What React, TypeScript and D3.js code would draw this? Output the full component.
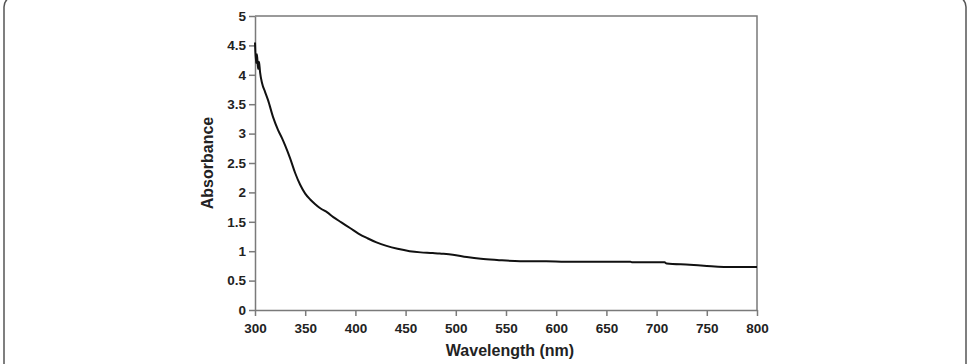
import { useEffect, useRef } from "react";
import * as d3 from "d3";

// absorbance spectrum
const wavelength = [
  300, 301, 302, 303, 304, 305, 307, 310, 313, 318, 323, 327, 330, 335, 340, 345, 350, 355, 360, 365,
  372, 378, 386, 395, 403, 412, 421, 431, 442, 454, 465, 477, 484, 497, 511, 525, 541, 564, 590, 609,
  644, 674, 676, 708, 710, 733, 750, 776, 800,
];
const absorbance = [
  4.55, 4.2, 4.35, 4.1, 4.22, 4.05, 3.86, 3.71, 3.57, 3.28, 3.06, 2.92, 2.8, 2.58, 2.33, 2.13, 1.98, 1.88, 1.8, 1.73,
  1.66, 1.58, 1.49, 1.39, 1.3, 1.22, 1.15, 1.09, 1.04, 1.0, 0.98, 0.97, 0.96, 0.94, 0.9, 0.87, 0.85, 0.83, 0.83, 0.82,
  0.82, 0.82, 0.81, 0.81, 0.79, 0.77, 0.75, 0.73, 0.73,
];
const xTicks = [300, 350, 400, 450, 500, 550, 600, 650, 700, 750, 800];
const yTicks = [0, 0.5, 1, 1.5, 2, 2.5, 3, 3.5, 4, 4.5, 5];

export default function App() {
  const svgRef = useRef<SVGSVGElement | null>(null);

  useEffect(() => {
    const svg = d3.select(svgRef.current);
    const width = 975;
    const height = 364;
    const margin = { top: 16, right: 218, bottom: 54, left: 255 };
    const font = "'Liberation Sans', Arial, sans-serif";
    const axisColor = "#7a7a7a";

    svg.selectAll("*").remove();

    // outer frame with rounded corners
    svg.append("rect")
      .attr("x", 4)
      .attr("y", -4)
      .attr("width", 962)
      .attr("height", 420)
      .attr("rx", 11)
      .attr("fill", "none")
      .attr("stroke", "#555")
      .attr("stroke-width", 1.5);

    const x = d3.scaleLinear().domain([300, 800]).range([margin.left, width - margin.right]);
    const y = d3.scaleLinear().domain([0, 5]).range([height - margin.bottom, margin.top]);

    // plot box: top and right edges
    svg.append("path")
      .attr("d", `M${x(300)},${y(5)}H${x(800)}V${y(0)}`)
      .attr("fill", "none")
      .attr("stroke", axisColor)
      .attr("stroke-width", 1.5);

    const xAxis = svg.append("g")
      .attr("transform", `translate(0,${y(0)})`)
      .call(d3.axisBottom(x).tickValues(xTicks).tickSize(6).tickPadding(7).tickSizeOuter(0));
    const yAxis = svg.append("g")
      .attr("transform", `translate(${x(300)},0)`)
      .call(d3.axisLeft(y).tickValues(yTicks).tickSize(6).tickPadding(3).tickSizeOuter(0)
        .tickFormat((d) => String(d)));

    [xAxis, yAxis].forEach((g) => {
      g.select(".domain").attr("stroke", axisColor).attr("stroke-width", 1.5);
      g.selectAll(".tick line").attr("stroke", axisColor).attr("stroke-width", 1.5);
      g.selectAll(".tick text")
        .attr("fill", "#222")
        .style("font-family", font)
        .style("font-size", "13.5px")
        .style("font-weight", "bold");
    });

    const line = d3.line<number>()
      .x((_, i) => x(wavelength[i]))
      .y((d) => y(d))
      .curve(d3.curveMonotoneX);

    svg.append("path")
      .datum(absorbance)
      .attr("d", line)
      .attr("fill", "none")
      .attr("stroke", "#111")
      .attr("stroke-width", 2);

    svg.append("text")
      .attr("x", (x(300) + x(800)) / 2 + 4)
      .attr("y", 356)
      .attr("text-anchor", "middle")
      .style("font-family", font)
      .style("font-size", "16px")
      .style("font-weight", "bold")
      .attr("fill", "#222")
      .text("Wavelength (nm)");

    svg.append("text")
      .attr("transform", `translate(213,${(y(0) + y(5)) / 2}) rotate(-90)`)
      .attr("text-anchor", "middle")
      .style("font-family", font)
      .style("font-size", "16px")
      .style("font-weight", "bold")
      .attr("fill", "#222")
      .text("Absorbance");
  }, []);

  return (
    <svg
      ref={svgRef}
      width={975}
      height={364}
      style={{ position: "absolute", left: 0, top: 0, background: "white" }}
    />
  );
}
